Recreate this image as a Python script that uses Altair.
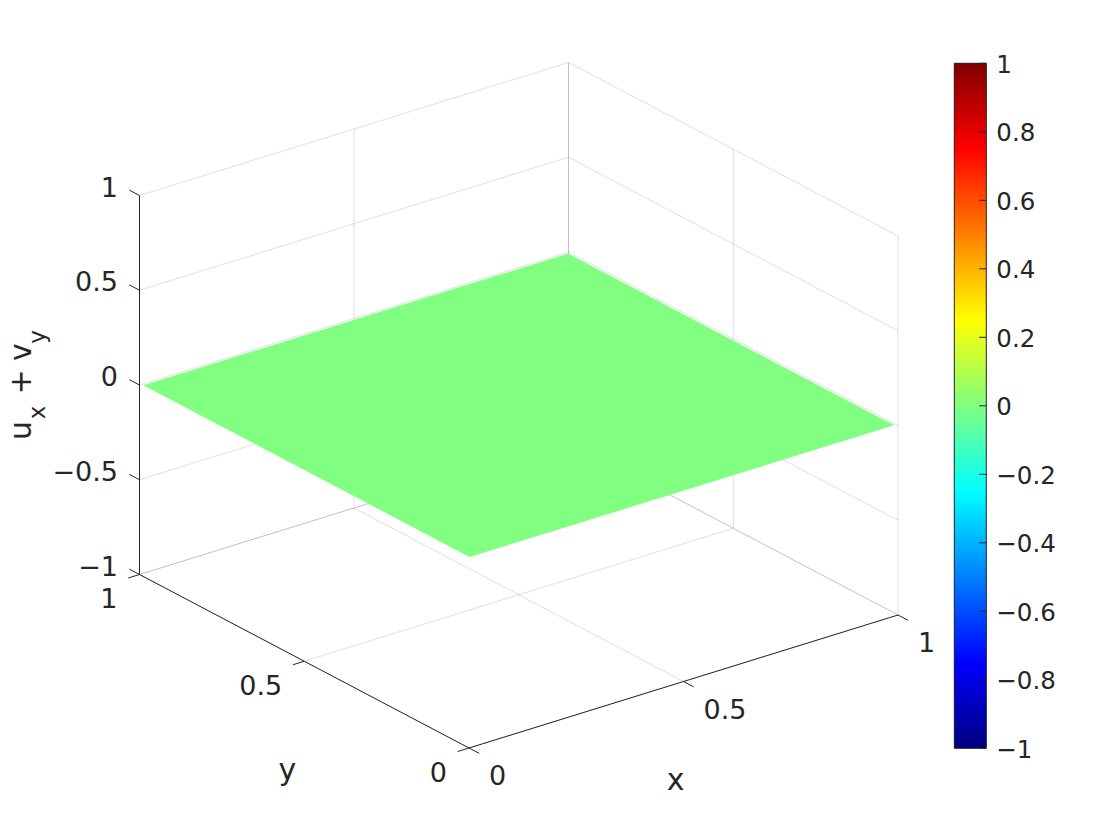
import altair as alt
import numpy as np
import pandas as pd

# ---- values ----
x_ticks = [0, 0.5, 1]
y_ticks = [0, 0.5, 1]
z_ticks = [-1, -0.5, 0, 0.5, 1]
x_tick_text = ["0", "0.5", "1"]
y_tick_text = ["0", "0.5", "1"]
z_tick_text = ["\u22121", "\u22120.5", "0", "0.5", "1"]
surface_x = [0.005, 0.995]
surface_y = [0.005, 0.995]
surface_z = 0.0
colorbar_ticks = [-1, -0.8, -0.6, -0.4, -0.2, 0, 0.2, 0.4, 0.6, 0.8, 1]
colorbar_text = ["\u22121", "\u22120.8", "\u22120.6", "\u22120.4", "\u22120.2", "0",
                 "0.2", "0.4", "0.6", "0.8", "1"]
jet_domain = [-1, -0.75, -0.25, 0.25, 0.75, 1]
jet_range = ["#000080", "#0000ff", "#00ffff", "#ffff00", "#ff0000", "#800000"]

# ---- view of the 3-D box (screen pixels inside the page margin) ----
W, H = 1104, 824
M = 8
ORIGIN = (469.0 - M, 748.0 - M)   # x=0, y=0, z=-1
XV = (429.0, -133.0)
YV = (-329.5, -173.5)
ZV = (0.0, -189.5)

FONT = "DejaVu Sans"
INK = "#262626"
TICK_SIZE = 27
TITLE_SIZE = 30
SUB_SIZE = 23
TICK_LEN = 0.031


def proj(x, y, z):
    return (ORIGIN[0] + x * XV[0] + y * YV[0] + (z + 1) * ZV[0],
            ORIGIN[1] + x * XV[1] + y * YV[1] + (z + 1) * ZV[1])


def seg(a, b):
    p, q = proj(*a), proj(*b)
    return {"px": p[0], "py": p[1], "qx": q[0], "qy": q[1]}


sx = alt.Scale(domain=[0, W], nice=False, zero=False)
sy = alt.Scale(domain=[H, 0], nice=False, zero=False)
X = alt.X("px:Q", scale=sx, axis=None)
Y = alt.Y("py:Q", scale=sy, axis=None)
jet = alt.Scale(domain=jet_domain, range=jet_range, interpolate="rgb")


def rules(segs, **kw):
    return alt.Chart(pd.DataFrame(segs)).mark_rule(**kw).encode(
        x=X, y=Y, x2="qx:Q", y2="qy:Q")


def label(texts, points, dx, dy, size, align, **kw):
    rows = []
    for t, p in zip(texts, points):
        a = proj(*p)
        rows.append({"px": a[0] + dx, "py": a[1] + dy, "t": t})
    return alt.Chart(pd.DataFrame(rows)).mark_text(
        font=FONT, fontSize=size, color=INK, align=align, baseline="middle", **kw
    ).encode(x=X, y=Y, text="t:N")


# grid on the back walls and the floor
grid = []
for z in z_ticks:
    grid.append(seg((0, 1, z), (1, 1, z)))
    grid.append(seg((1, 0, z), (1, 1, z)))
for x in x_ticks:
    grid.append(seg((x, 1, -1), (x, 1, 1)))
    grid.append(seg((x, 0, -1), (x, 1, -1)))
for y in y_ticks:
    grid.append(seg((1, y, -1), (1, y, 1)))
    grid.append(seg((0, y, -1), (1, y, -1)))
grid_layer = rules(grid, color="black", opacity=0.13, strokeWidth=1)

# surface: a flat sheet, seen as a four-cornered shape
left = proj(surface_x[0], surface_y[1], surface_z)
front = proj(surface_x[0], surface_y[0], surface_z)
back = proj(surface_x[1], surface_y[1], surface_z)
right = proj(surface_x[1], surface_y[0], surface_z)
xs = sorted([left[0], front[0], back[0], right[0]])
low = np.interp(xs, [left[0], front[0], right[0]], [left[1], front[1], right[1]])
up = np.interp(xs, [left[0], back[0], right[0]], [left[1], back[1], right[1]])
surf_df = pd.DataFrame({"px": xs, "py": low, "py2": up, "z": surface_z})
surface_layer = alt.Chart(surf_df).mark_area(opacity=1, interpolate="linear").encode(
    x=X, y=Y, y2="py2:Q",
    color=alt.Color("z:Q", scale=jet, legend=None),
)

# axes and their ticks
axes = [
    seg((0, 1, -1), (0, 1, 1)),
    seg((0, 0, -1), (0, 1, -1)),
    seg((0, 0, -1), (1, 0, -1)),
]
ticks = []
for z in z_ticks:
    ticks.append(seg((0, 1, z), (0, 1 + TICK_LEN, z)))
for y in y_ticks:
    ticks.append(seg((0, y, -1), (-TICK_LEN * 0.85, y, -1)))
for x in x_ticks:
    ticks.append(seg((x, 0, -1), (x, -TICK_LEN, -1)))
axes_layer = rules(axes + ticks, color=INK, strokeWidth=1)

z_labels = label(z_tick_text, [(0, 1, z) for z in z_ticks], -21.5, -7, TICK_SIZE, "right")
y_labels = label(y_tick_text, [(0, y, -1) for y in y_ticks], -22, 25.5, TICK_SIZE, "right")
x_labels = label(x_tick_text, [(x, 0, -1) for x in x_ticks], 20, 29, TICK_SIZE, "left")
x_title = label(["x"], [(0.5, 0, -1)], -8, 99, TITLE_SIZE, "center")
y_title = label(["y"], [(0, 0.5, -1)], -17, 109.5, TITLE_SIZE, "center")


def z_part(text, dx, dy, size):
    a = proj(0, 1, 0)
    return alt.Chart(pd.DataFrame([{"px": a[0] + dx, "py": a[1] + dy, "t": text}])).mark_text(
        font=FONT, fontSize=size, color=INK, align="center", baseline="alphabetic", angle=270
    ).encode(x=X, y=Y, text="t:N")


z_title = [
    z_part("u", -108.5, 45.5, TITLE_SIZE),
    z_part("x", -94.5, 27.5, SUB_SIZE),
    z_part("+", -108.5, -3, TITLE_SIZE),
    z_part("v", -108.5, -33, TITLE_SIZE),
    z_part("y", -94.5, -48, SUB_SIZE),
]

main = alt.layer(grid_layer, surface_layer, axes_layer, z_labels, y_labels, x_labels,
                 x_title, y_title, *z_title)

# colour bar, with scales of its own
CB_LEFT, CB_RIGHT = 954.3 - M, 986.3 - M
CB_TOP, CB_BOTTOM = 63.3 - M, 748.3 - M
cbx = alt.Scale(domain=[0, 1], range=[CB_LEFT, CB_RIGHT], nice=False, zero=False)
cby = alt.Scale(domain=[-1, 1], range=[CB_BOTTOM, CB_TOP], nice=False, zero=False)

edges = np.linspace(-1, 1, 257)
cells = pd.DataFrame({
    "lo": edges[:-1],
    "hi": np.append(edges[2:], 1.0),
    "mid": (edges[:-1] + edges[1:]) / 2,
    "a": 0.0,
    "b": 1.0,
})
cb_cells = alt.Chart(cells).mark_rect(strokeWidth=0).encode(
    x=alt.X("a:Q", scale=cbx, axis=None),
    x2="b:Q",
    y=alt.Y("lo:Q", scale=cby, axis=None),
    y2="hi:Q",
    color=alt.Color("mid:Q", scale=jet, legend=None),
)
cb_tick_df = pd.DataFrame({"v": colorbar_ticks, "a": 0.78, "b": 1.0, "t": colorbar_text})
cb_ticks = alt.Chart(cb_tick_df).mark_rule(color=INK, strokeWidth=1).encode(
    x=alt.X("a:Q", scale=cbx, axis=None),
    x2="b:Q",
    y=alt.Y("v:Q", scale=cby, axis=None),
)
cb_labels = alt.Chart(cb_tick_df).mark_text(
    font=FONT, fontSize=24.5, color=INK, align="left", baseline="middle", dx=10, dy=2.5
).encode(
    x=alt.X("b:Q", scale=cbx, axis=None),
    y=alt.Y("v:Q", scale=cby, axis=None),
    text="t:N",
)
cb_frame = alt.Chart(pd.DataFrame({"a": [0.0], "b": [1.0], "lo": [-1.0], "hi": [1.0]})).mark_rect(
    fill=None, fillOpacity=0, stroke=INK, strokeWidth=1
).encode(
    x=alt.X("a:Q", scale=cbx, axis=None),
    x2="b:Q",
    y=alt.Y("lo:Q", scale=cby, axis=None),
    y2="hi:Q",
)
colorbar = alt.layer(cb_cells, cb_ticks, cb_frame, cb_labels)

chart = alt.layer(main, colorbar).resolve_scale(x="independent", y="independent").properties(
    width=W, height=H, padding=0, background="white",
    autosize=alt.AutoSizeParams(type="none"),
).configure_view(stroke=None)

chart.save("out.html", embed_options={"renderer": "svg", "actions": False})
